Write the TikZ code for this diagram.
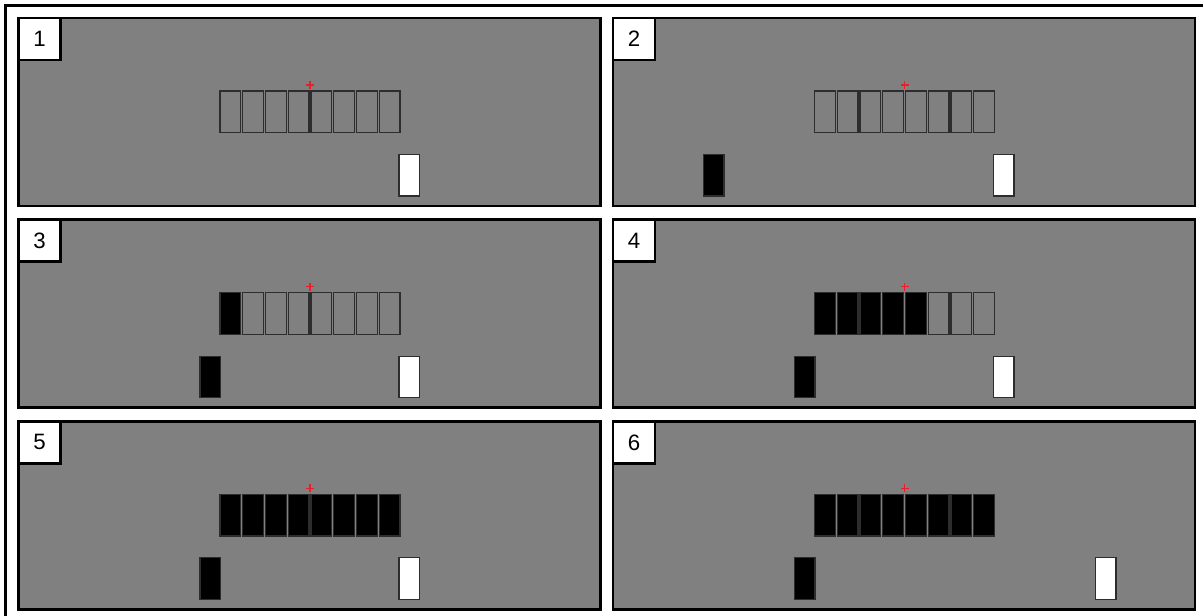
\documentclass[tikz,border=0pt]{standalone}
\usepackage{fontspec}
\setmainfont{Liberation Sans}
\usetikzlibrary{positioning}
\definecolor{ScreenGray}{RGB}{128,128,128}
\definecolor{EdgeGray}{RGB}{45,45,45}
\definecolor{FixRed}{RGB}{235,30,40}

\tikzset{
  panel/.style={fill=ScreenGray, draw=black, line width=2.5pt},
  numbox/.style={fill=white, draw=black, line width=2.5pt, minimum size=1.26cm,
    inner sep=0pt, outer sep=0pt, anchor=north west, font=\fontsize{19}{19}\selectfont},
  slot/.style={draw=EdgeGray, line width=1.1pt},
  bar/.style={draw=EdgeGray, line width=0.9pt}
}

\begin{document}
\begin{tikzpicture}[x=0.03cm, y=-0.03cm]
    \useasboundingbox (0,0) rectangle (1203,616);
    \clip (0,0) rectangle (1203,616);

    % Outer frame (runs off the right and bottom edges)
    \draw[line width=2.5pt] (5.5,5.5) rectangle (1220,630);

    % Panels: left, top, number, filled slots, black bar, white bar
    \foreach \px/\py/\num/\nfill/\bx/\wx in {18.5/18/1/0/-1/380.5, 613/18/2/0/90.5/380.5,
        18.5/219.7/3/1/181.5/380.5, 613/219.7/4/5/181.5/380.5,
        18.5/421.4/5/8/181.5/380.5, 613/421.4/6/8/181.5/482.5} {
      \begin{scope}[shift={(\px,\py)}]
        \draw[panel] (0,0) rectangle (582,188);

        % Row of slots
        \foreach \k in {1,...,8} {
          \ifnum\k>\nfill \def\slotcol{ScreenGray}\else \def\slotcol{black}\fi
          \draw[slot, fill=\slotcol] ({201.5+22.75*(\k-1)},73) rectangle +(20.7,41.5);
        }

        % Fixation cross
        \draw[FixRed, line width=1.2pt] (291.5,63) -- (291.5,71) (287.5,67) -- (295.5,67);

        % Response bars
        \ifdim\bx pt>0pt
          \draw[bar, fill=black] (\bx,136.5) rectangle +(20.5,41.5);
        \fi
        \draw[bar, fill=white] (\wx,136.5) rectangle +(20.5,41.5);

        % Step number
        \node[numbox] (num\num) at (0,0) {\num};
      \end{scope}
    }
\end{tikzpicture}
\end{document}
